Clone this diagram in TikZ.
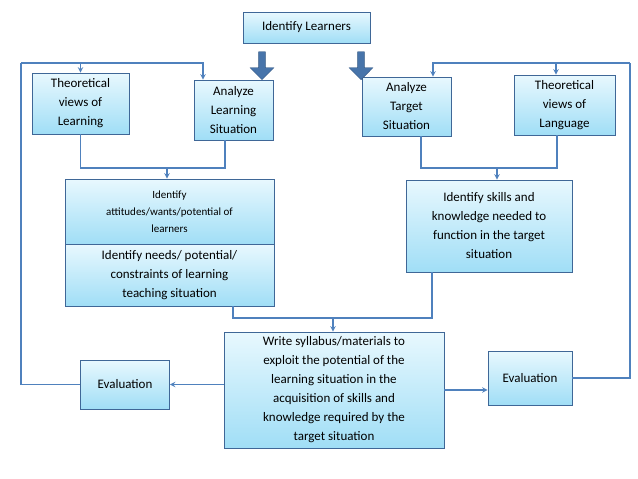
\documentclass[tikz,border=0pt]{standalone}
\usepackage{fontspec}
\setmainfont{Carlito}
\usetikzlibrary{shapes.arrows, arrows}
\definecolor{edge}{RGB}{79,129,189}
\definecolor{boxtop}{RGB}{232,248,254}
\definecolor{boxbot}{RGB}{160,222,246}
\tikzstyle{box} = [rectangle, draw=edge!80!black, line width=0.8pt, top color=boxtop, bottom color=boxbot, align=center, inner sep=2pt, font=\fontsize{13}{19}\selectfont]
\tikzstyle{arrow} = [draw=edge, line width=1.4pt, ->, >=stealth]
\tikzstyle{line} = [draw=edge, line width=1.4pt]
\tikzstyle{bigarrow} = [single arrow, fill=edge!90!black, draw=edge!70!black, rotate=-90, minimum height=28pt, minimum width=24pt, single arrow head extend=3pt, inner sep=1pt]

\begin{document}
\begin{tikzpicture}[x=1pt,y=-1pt]
\useasboundingbox (0,0) rectangle (638,479);

\node (learners) [box, minimum width=127pt, minimum height=31pt] at (306.5,27.5) {Identify Learners};
\node (thlearn) [box, minimum width=97pt, minimum height=61pt] at (80.5,103.5) {Theoretical\\views of\\Learning};
\node (anlearn) [box, minimum width=79pt, minimum height=60pt] at (233.5,110) {Analyze\\Learning\\Situation};
\node (antarget) [box, minimum width=89pt, minimum height=59pt] at (406.5,106.5) {Analyze\\Target\\Situation};
\node (thlang) [box, minimum width=101pt, minimum height=60pt] at (564.5,105) {Theoretical\\views of\\Language};
\node (attitudes) [box, minimum width=209pt, minimum height=65pt, font=\fontsize{11}{17}\selectfont] at (169.5,211.5) {Identify\\attitudes/wants/potential of\\learners};
\node (needs) [box, minimum width=209pt, minimum height=62pt] at (169.5,275) {Identify needs/ potential/\\constraints of learning\\teaching situation};
\node (skills) [box, minimum width=166pt, minimum height=92pt] at (489,226) {Identify skills and\\knowledge needed to\\function in the target\\situation};
\node (write) [box, minimum width=220pt, minimum height=116pt] at (334,390) {Write syllabus/materials to\\exploit the potential of the\\learning situation in the\\acquisition of skills and\\knowledge required by the\\target situation};
\node (evalleft) [box, minimum width=89pt, minimum height=49pt] at (125,384.5) {Evaluation};
\node (evalright) [box, minimum width=84pt, minimum height=54pt] at (530,378) {Evaluation};
\node (bigleft) [bigarrow] at (262,64) {};
\node (bigright) [bigarrow] at (361,64) {};
\coordinate (loopleft) at (21,63);
\coordinate (loopright) at (630,63);
\coordinate (joinleft) at (167,168);
\coordinate (joinright) at (497,168);
\coordinate (joinbottom) at (333,318);

% left side
\draw [line] (thlearn.south) |- (joinleft) -| (anlearn.south -| 225,0);
\draw [arrow] (joinleft) -- (attitudes.north -| joinleft);
\draw [line] (evalleft.west) -| (loopleft);
\draw [arrow] (loopleft) -| (thlearn.north);
\draw [arrow] (loopleft) -| (anlearn.north -| 203,0);
% right side
\draw [line] (antarget.south -| 421,0) |- (joinright) -| (thlang.south -| 557,0);
\draw [arrow] (joinright) -- (skills.north -| joinright);
\draw [line] (evalright.east) -| (loopright);
\draw [arrow] (loopright) -| (thlang.north -| 556,0);
\draw [arrow] (loopright) -| (antarget.north -| 433,0);
% bottom
\draw [line] (needs.south -| 233,0) |- (joinbottom) -| (skills.south -| 432,0);
\draw [arrow] (joinbottom) -- (write.north -| joinbottom);
\draw [arrow] (write.west |- evalleft.east) -- (evalleft.east);
\draw [arrow] (write.east |- 0,390) -- (evalright.west |- 0,390);

\end{tikzpicture}
\end{document}
